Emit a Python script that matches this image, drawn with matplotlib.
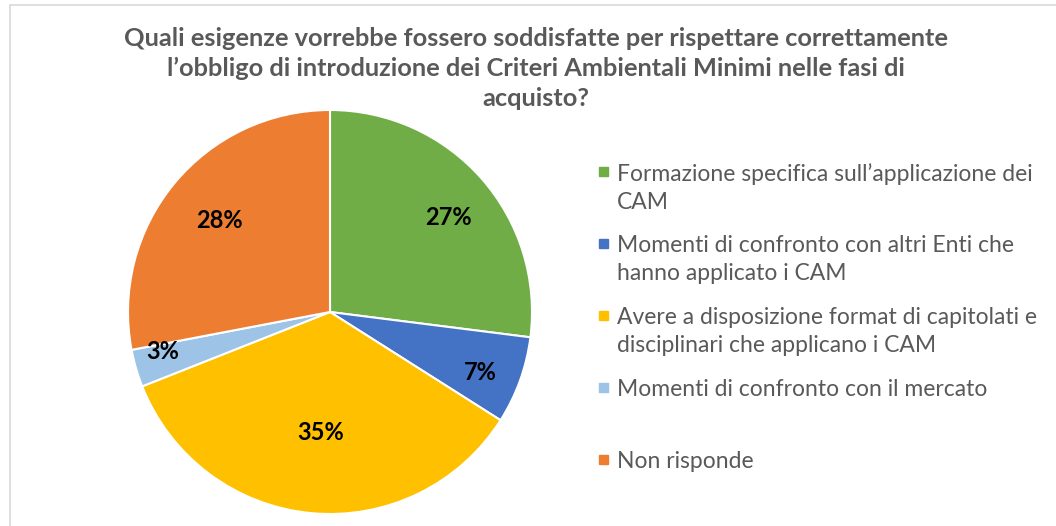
import numpy as np
import matplotlib
matplotlib.use("Agg")
import matplotlib.pyplot as plt
from matplotlib.patches import Rectangle

# dati del grafico
categorie = [
    "Formazione specifica sull\u2019applicazione dei\nCAM",
    "Momenti di confronto con altri Enti che\nhanno applicato i CAM",
    "Avere a disposizione format di capitolati e\ndisciplinari che applicano i CAM",
    "Momenti di confronto con il mercato",
    "Non risponde",
]
percentuali = [27, 7, 35, 3, 28]
colori = ["#70AD47", "#4472C4", "#FFC000", "#9DC3E6", "#ED7D31"]
titolo = ("Quali esigenze vorrebbe fossero soddisfatte per rispettare correttamente\n"
          "l\u2019obbligo di introduzione dei Criteri Ambientali Minimi nelle fasi di\n"
          "acquisto?")

plt.rcParams['font.family'] = ['Lato', 'DejaVu Sans']

W, H = 1056, 526
fig = plt.figure(figsize=(W / 100, H / 100), dpi=100)

# cornice grigia
fig.patches.append(Rectangle((10 / W, -0.01), 1.1, 1 - 5 / H + 0.01, transform=fig.transFigure,
                             fill=False, edgecolor="#D9D9D9", linewidth=1.2))

# torta: centro (330, 312), raggio 202 px
cx, cy, r = 330, 312, 202
ax = fig.add_axes([(cx - r) / W, (H - cy - r) / H, 2 * r / W, 2 * r / H])
wedges, _, autotexts = ax.pie(percentuali, colors=colori, startangle=90, counterclock=False,
                              autopct='%1.0f%%', radius=1,
                              wedgeprops=dict(edgecolor='white', linewidth=1.5),
                              textprops=dict(fontsize=17, fontweight='bold', color='black'))
ax.set_xlim(-1, 1)
ax.set_ylim(-1, 1)

# posizione etichette (tipo "best fit" di Excel)
dist = [0.75, 0.8, 0.6, 0.85, 0.71]
angoli_extra = [-3, -2, 1, -3, 0]
for w, t, d, da in zip(wedges, autotexts, dist, angoli_extra):
    a = np.deg2rad((w.theta1 + w.theta2) / 2 + da)
    t.set_position((d * np.cos(a), d * np.sin(a)))

# titolo
fig.text(536 / W, 1 - 27 / H, titolo, ha='center', va='top', fontsize=18.3, fontweight='bold',
         color='#595959', linespacing=1.36)

# legenda manuale
for i, (lab, col) in enumerate(zip(categorie, colori)):
    y = 172 + i * 72
    fig.patches.append(Rectangle((599 / W, 1 - (y + 4) / H), 9 / W, 9 / H,
                                 transform=fig.transFigure, color=col))
    fig.text(617 / W, 1 - (y - 9) / H, lab, ha='left', va='top', fontsize=16.5,
             color='#595959', linespacing=1.4)

fig.savefig("out.png", dpi=100, facecolor='white')
